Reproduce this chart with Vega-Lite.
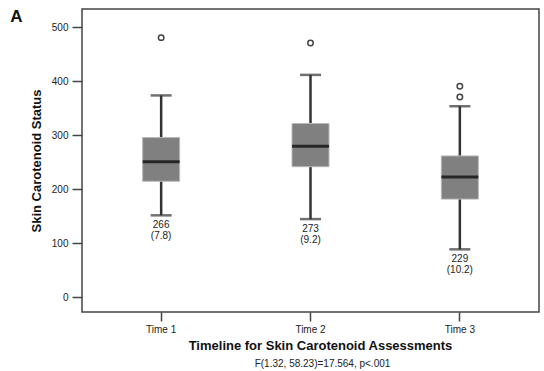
{
  "$schema": "https://vega.github.io/schema/vega-lite/v6.json",
  "autosize": "none",
  "width": 457,
  "height": 303,
  "padding": {"left": 82, "top": 9, "right": 5, "bottom": 59},
  "background": "white",
  "title": {"text": "A", "anchor": "start", "frame": "bounds", "fontSize": 17, "fontWeight": "bold", "font": "Liberation Sans", "color": "#111", "offset": 0, "dy": 17, "dx": -20},
  "config": {
    "font": "Liberation Sans",
    "view": {"stroke": "#444", "strokeWidth": 1.5},
    "axis": {"labelFont": "Liberation Sans", "titleFont": "Liberation Sans", "labelColor": "#222", "titleColor": "#111", "tickColor": "#444", "tickWidth": 1.5, "domain": false, "grid": false}
  },
  "datasets": {
    "boxes": [
      {"time": "Time 1", "lower": 152, "q1": 215, "median": 251, "q3": 296, "upper": 374, "label": "266\n(7.8)"},
      {"time": "Time 2", "lower": 145, "q1": 242, "median": 280, "q3": 322, "upper": 412, "label": "273\n(9.2)"},
      {"time": "Time 3", "lower": 89, "q1": 182, "median": 223, "q3": 262, "upper": 354, "label": "229\n(10.2)"}
    ],
    "outliers": [
      {"time": "Time 1", "value": 481},
      {"time": "Time 2", "value": 471},
      {"time": "Time 3", "value": 391},
      {"time": "Time 3", "value": 371}
    ]
  },
  "data": {"name": "boxes"},
  "resolve": {"axis": {"x": "independent"}},
  "layer": [
    {
      "mark": {"type": "rule", "color": "#333", "strokeWidth": 2.5},
      "encoding": {
        "x": {"field": "time", "type": "nominal", "sort": null,
              "scale": {"type": "band", "paddingInner": 0.5, "paddingOuter": 0.28},
              "axis": {"orient": "bottom", "title": "Timeline for Skin Carotenoid Assessments", "labelAngle": 0, "labelFontSize": 10, "tickSize": 9, "labelPadding": 3, "titleFontSize": 13, "titleFontWeight": "bold", "titlePadding": 5, "titleX": 238}},
        "y": {"field": "lower", "type": "quantitative", "title": "Skin Carotenoid Status",
              "scale": {"domain": [-27, 534], "nice": false, "zero": false},
              "axis": {"values": [0, 100, 200, 300, 400, 500], "tickSize": 10, "labelFontSize": 10, "labelPadding": 4, "titleFontSize": 13, "titleFontWeight": "bold", "titlePadding": 8}},
        "y2": {"field": "upper"}
      }
    },
    {
      "mark": {"type": "bar", "width": 37, "color": "#808080", "stroke": "#b8b8b8", "strokeWidth": 1},
      "encoding": {
        "x": {"field": "time", "type": "nominal", "sort": null,
              "axis": {"orient": "bottom", "offset": 46, "title": "F(1.32, 58.23)=17.564, p<.001", "labels": false, "ticks": false, "domain": false, "titleFontSize": 10, "titleFontWeight": "normal", "titleColor": "#222", "titlePadding": 0, "titleX": 240}},
        "y": {"field": "q1", "type": "quantitative", "title": "Skin Carotenoid Status"},
        "y2": {"field": "q3"}
      }
    },
    {
      "mark": {"type": "tick", "color": "#000", "size": 37, "thickness": 3},
      "encoding": {
        "x": {"field": "time", "type": "nominal", "sort": null, "axis": null},
        "y": {"field": "median", "type": "quantitative", "title": "Skin Carotenoid Status"}
      }
    },
    {
      "mark": {"type": "tick", "color": "#333", "size": 21, "thickness": 2.5},
      "encoding": {
        "x": {"field": "time", "type": "nominal", "sort": null, "axis": null},
        "y": {"field": "upper", "type": "quantitative", "title": "Skin Carotenoid Status"}
      }
    },
    {
      "mark": {"type": "tick", "color": "#333", "size": 21, "thickness": 2.5},
      "encoding": {
        "x": {"field": "time", "type": "nominal", "sort": null, "axis": null},
        "y": {"field": "lower", "type": "quantitative", "title": "Skin Carotenoid Status"}
      }
    },
    {
      "mark": {"type": "text", "baseline": "top", "dy": 5, "fontSize": 10, "color": "#222", "lineBreak": "\n", "lineHeight": 11},
      "encoding": {
        "x": {"field": "time", "type": "nominal", "sort": null, "axis": null},
        "y": {"field": "lower", "type": "quantitative", "title": "Skin Carotenoid Status"},
        "text": {"field": "label"}
      }
    },
    {
      "data": {"name": "outliers"},
      "mark": {"type": "point", "shape": "circle", "filled": false, "size": 30, "stroke": "#444", "strokeWidth": 1.5, "opacity": 1},
      "encoding": {
        "x": {"field": "time", "type": "nominal", "sort": null, "axis": null},
        "y": {"field": "value", "type": "quantitative", "title": "Skin Carotenoid Status"}
      }
    }
  ]
}
